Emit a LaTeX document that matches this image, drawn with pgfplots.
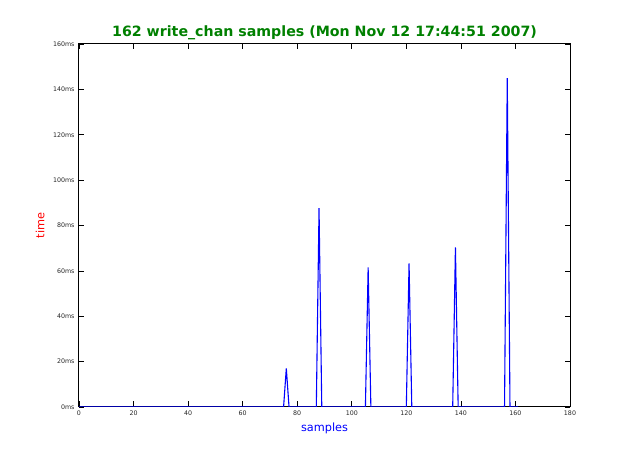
\documentclass[border=0pt]{standalone}
\usepackage{fontspec}
\setmainfont{DejaVu Sans}
\usepackage{pgfplots}
\pgfplotsset{compat=1.18}
\definecolor{titlegreen}{RGB}{0,128,0}
\begin{document}
\begin{tikzpicture}[x=1pt,y=1pt]
\useasboundingbox (0,0) rectangle (633,453);
\begin{axis}[
  at={(79pt,46pt)}, anchor=south west,
  scale only axis, width=491pt, height=363pt,
  xmin=0, xmax=180, ymin=0, ymax=160,
  xtick={0,20,...,180}, ytick={0,20,...,160},
  yticklabels={0ms,20ms,40ms,60ms,80ms,100ms,120ms,140ms,160ms},
  tick align=inside, tick pos=both,
  major tick length=5.5pt,
  axis line style={line width=1pt},
  tick style={line width=0.6pt, black},
  ticklabel style={font=\fontsize{6.3}{7}\selectfont, text=black!85},
  /pgf/number format/assume math mode=true,
  xticklabel style={yshift=-0.5pt},
  yticklabel style={xshift=-1pt},
  title={\textbf{162 write\_chan samples (Mon Nov 12 17:44:51 2007)}},
  title style={font=\fontsize{14.2}{16}\selectfont, text=titlegreen, at={(0.5,1)}, anchor=base, yshift=1pt},
  xlabel={samples}, ylabel={time},
  xlabel style={font=\fontsize{11.3}{13}\selectfont, text=blue, at={(0.5,0)}, anchor=base, yshift=-24.5pt},
  ylabel style={font=\fontsize{11.3}{13}\selectfont, text=red, at={(0,0.5)}, anchor=base, rotate=0, yshift=34.5pt},
]
\addplot[blue, line width=1.1pt, mark=none] table[x expr=\coordindex, y index=0, header=false] {
0
0
0
0
0
0
0
0
0
0
0
0
0
0
0
0
0
0
0
0
0
0
0
0
0
0
0
0
0
0
0
0
0
0
0
0
0
0
0
0
0
0
0
0
0
0
0
0
0
0
0
0
0
0
0
0
0
0
0
0
0
0
0
0
0
0
0
0
0
0
0
0
0
0
0
0
17
0
0
0
0
0
0
0
0
0
0
0
87.6
0
0
0
0
0
0
0
0
0
0
0
0
0
0
0
0
0
61.5
0
0
0
0
0
0
0
0
0
0
0
0
0
0
63.3
0
0
0
0
0
0
0
0
0
0
0
0
0
0
0
0
70.4
0
0
0
0
0
0
0
0
0
0
0
0
0
0
0
0
0
0
145
0
0
0
0
};
\end{axis}
\end{tikzpicture}
\end{document}
